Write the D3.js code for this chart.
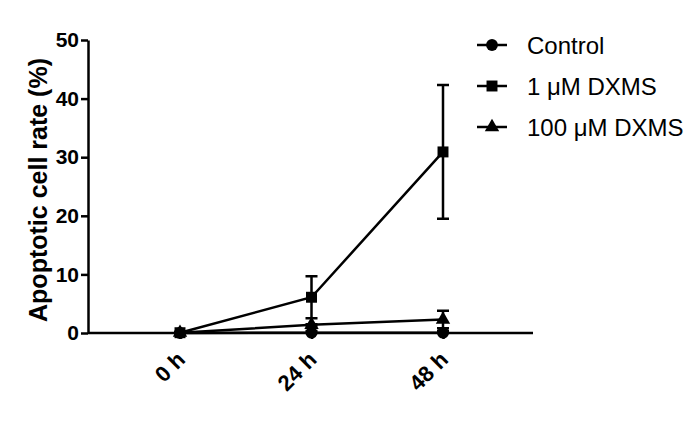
<!DOCTYPE html>
<html>
<head>
<meta charset="utf-8">
<script src="https://cdn.jsdelivr.net/npm/d3@7"></script>
<style>
  body { margin: 0; background: #fff; }
  svg { display: block; }
</style>
</head>
<body>
<svg id="chart" width="700" height="422"></svg>
<script>
// data
var timepoints = ['0 h', '24 h', '48 h'];
var y_ticks = [0, 10, 20, 30, 40, 50];

var control_mean = [0, 0.05, 0.05];
var control_err = [0, 0.3, 0.3];

var low_mean = [0.05, 6.1, 30.9];
var low_err = [0.1, 3.6, 11.4];

var high_mean = [0.05, 1.4, 2.3];
var high_err = [0, 0.1, 1.5];

var series_names = ['Control', '1 \u03bcM DXMS', '100 \u03bcM DXMS'];

var svg = d3.select('#chart');
var font = 'Arial, "Liberation Sans", Helvetica, sans-serif';

var x_left = 88, x_right = 533;
var y_top = 40, y_bottom = 333;

var x = d3.scalePoint()
  .domain(timepoints)
  .range([180, 443]);

var y = d3.scaleLinear()
  .domain([0, 50])
  .range([y_bottom, y_top]);

// axes
var y_axis = svg.append('g')
  .attr('transform', 'translate(' + x_left + ',0)')
  .call(d3.axisLeft(y).tickValues(y_ticks).tickSize(7).tickSizeOuter(0).tickPadding(2));

y_axis.select('.domain').attr('stroke-width', 2.5);
y_axis.selectAll('.tick line').attr('stroke-width', 2.5);
y_axis.selectAll('text')
  .style('font-family', font)
  .style('font-weight', 'bold')
  .style('font-size', '21px')
  .attr('fill', '#000');

var x_axis = svg.append('g')
  .attr('transform', 'translate(0,' + y_bottom + ')')
  .call(d3.axisBottom(x).tickSize(6).tickSizeOuter(0));

x_axis.select('.domain')
  .attr('d', 'M' + x_left + ',0H' + x_right)
  .attr('stroke-width', 2.5);
x_axis.selectAll('.tick line').attr('stroke-width', 2.5);
x_axis.selectAll('text')
  .style('font-family', font)
  .style('font-weight', 'bold')
  .style('font-size', '22px')
  .attr('fill', '#000')
  .attr('text-anchor', 'end')
  .attr('dy', null)
  .attr('y', 0)
  .attr('transform', 'translate(6,28) rotate(-45)');

// y label
svg.append('text')
  .text('Apoptotic cell rate (%)')
  .attr('transform', 'translate(47,' + 190 + ') rotate(-90)')
  .attr('text-anchor', 'middle')
  .style('font-family', font)
  .style('font-weight', 'bold')
  .style('font-size', '25px');

var series = [
  { name: series_names[0], mean: control_mean, err: control_err, symbol: d3.symbolCircle, size: 110 },
  { name: series_names[1], mean: low_mean, err: low_err, symbol: d3.symbolSquare, size: 120 },
  { name: series_names[2], mean: high_mean, err: high_err, symbol: d3.symbolTriangle, size: 90 }
];

var line = d3.line()
  .x(function(d, i){ return x(timepoints[i]); })
  .y(function(d){ return y(d); });

var cap = 6;

// draw order: triangle, circle, square on top (square shows at 0 h)
[series[2], series[0], series[1]].forEach(function(s){
  var g = svg.append('g');

  // error bars
  s.mean.forEach(function(m, i){
    if (s.err[i] <= 0) return;
    var cx = x(timepoints[i]);
    var y1 = y(m + s.err[i]);
    var y0 = y(Math.max(0, m - s.err[i]));
    g.append('path')
      .attr('d', 'M' + cx + ',' + y1 + 'V' + y0 +
        'M' + (cx - cap) + ',' + y1 + 'H' + (cx + cap) +
        'M' + (cx - cap) + ',' + y0 + 'H' + (cx + cap))
      .attr('stroke', '#000')
      .attr('stroke-width', 2.5)
      .attr('fill', 'none');
  });

  g.append('path')
    .datum(s.mean)
    .attr('d', line)
    .attr('fill', 'none')
    .attr('stroke', '#000')
    .attr('stroke-width', 2.5);

  g.selectAll('.pt')
    .data(s.mean)
    .enter()
    .append('path')
    .attr('d', d3.symbol().type(s.symbol).size(s.size))
    .attr('transform', function(d, i){
      return 'translate(' + x(timepoints[i]) + ',' + y(d) + ')';
    })
    .attr('fill', '#000');
});

// legend
var legend = svg.append('g')
  .selectAll('g')
  .data(series)
  .enter()
  .append('g')
  .attr('transform', function(d, i){
    return 'translate(477,' + (45 + i * 41) + ')';
  });

legend.append('line')
  .attr('x1', 0).attr('x2', 30)
  .attr('stroke', '#000')
  .attr('stroke-width', 2.5);

legend.append('path')
  .attr('d', function(d){ return d3.symbol().type(d.symbol).size(d.size)(); })
  .attr('transform', 'translate(15,0)')
  .attr('fill', '#000');

legend.append('text')
  .text(function(d){ return d.name; })
  .attr('x', 50)
  .attr('dy', '0.36em')
  .style('font-family', font)
  .style('font-size', '24px');
</script>
</body>
</html>
